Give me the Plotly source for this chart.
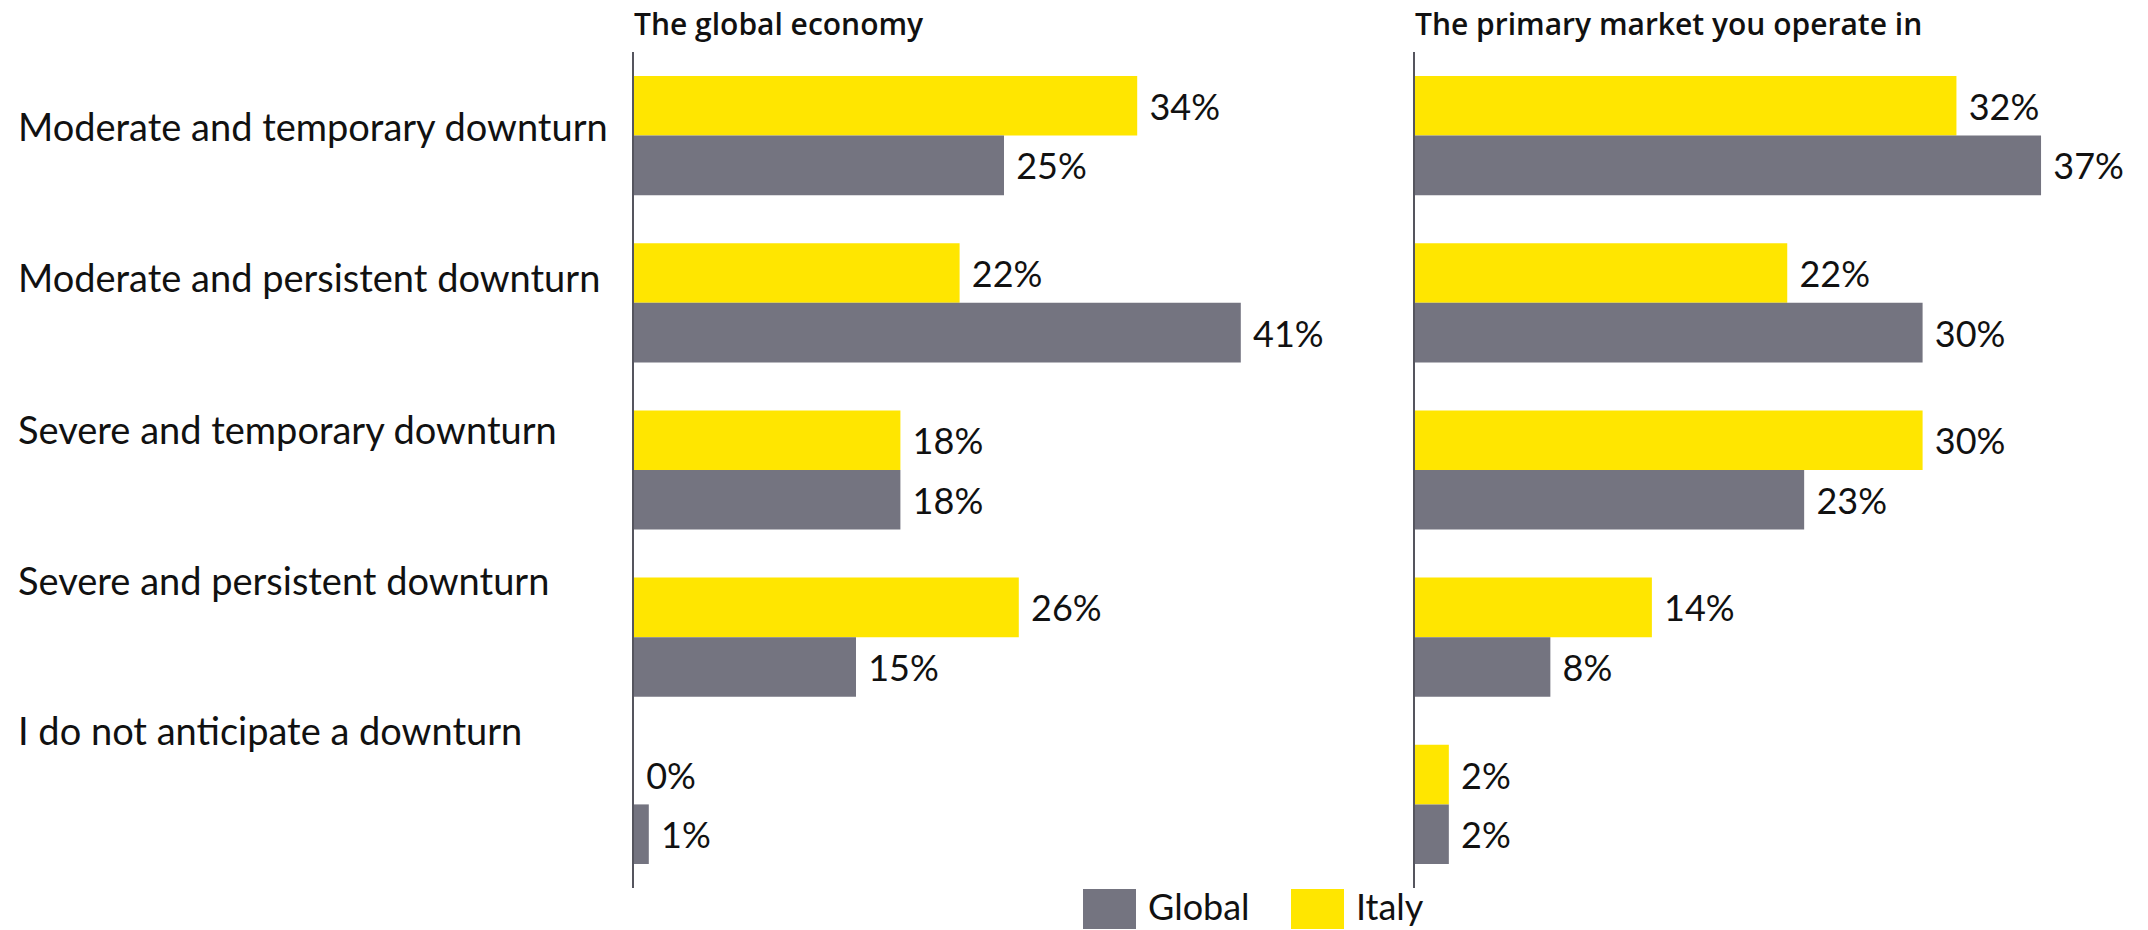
import plotly.graph_objects as go

# Survey answers, top to bottom
categories = [
    "Moderate and temporary downturn",
    "Moderate and persistent downturn",
    "Severe and temporary downturn",
    "Severe and persistent downturn",
    "I do not anticipate a downturn",
]

# Share of respondents (%) – outlook for the global economy
global_economy_italy = [34, 22, 18, 26, 0]
global_economy_global = [25, 41, 18, 15, 1]

# Share of respondents (%) – outlook for the primary market
primary_market_italy = [32, 22, 30, 14, 2]
primary_market_global = [37, 30, 23, 8, 2]

panel_titles = ["The global economy", "The primary market you operate in"]
series_names = ["Italy", "Global"]

YELLOW = "#FFE600"
GRAY = "#747480"
TEXT = "#111111"
AXIS = "#55555e"
FONT = "Lato"
TITLE_FONT = "Open Sans"

W, H = 2148, 930
px = lambda v: v / W
py = lambda v: 1 - v / H

fig = go.Figure()

panels = [
    (global_economy_italy, global_economy_global, "x", "y"),
    (primary_market_italy, primary_market_global, "x2", "y2"),
]
for italy, glob, xa, ya in panels:
    for name, vals, color in ((series_names[0], italy, YELLOW), (series_names[1], glob, GRAY)):
        fig.add_trace(go.Bar(
            name=name,
            y=categories,
            x=vals,
            orientation="h",
            marker=dict(color=color, line=dict(width=0)),
            text=[f" {v}%" for v in vals],
            textposition="outside",
            textfont=dict(family=FONT, size=36, color=TEXT),
            constraintext="none",
            cliponaxis=False,
            xaxis=xa,
            yaxis=ya,
            showlegend=False,
            hoverinfo="skip",
        ))

y_dom = [py(888), py(52)]
common_x = dict(showgrid=False, zeroline=False, showticklabels=False, showline=False, ticks="", fixedrange=True)
common_y = dict(type="category", categoryorder="array", categoryarray=categories,
                autorange="reversed", showgrid=False, zeroline=False, showticklabels=False,
                ticks="", showline=True, linecolor=AXIS, linewidth=2, domain=y_dom)

fig.update_layout(
    width=W, height=H,
    margin=dict(l=0, r=0, t=0, b=0),
    paper_bgcolor="white", plot_bgcolor="white",
    barmode="group", bargap=0.287, bargroupgap=0,
    showlegend=False,
    xaxis=dict(domain=[px(634), px(634 + 50 * 14.8)], range=[0, 50], **common_x),
    xaxis2=dict(domain=[px(1415), px(1415 + 40 * 16.92)], range=[0, 40], **common_x),
    yaxis=dict(anchor="x", **common_y),
    yaxis2=dict(anchor="x2", **common_y),
)

# Panel titles
for title, x0 in zip(panel_titles, (632, 1413)):
    fig.add_annotation(text=title, x=px(x0), y=py(24), xref="paper", yref="paper",
                       xanchor="left", yanchor="middle", showarrow=False,
                       font=dict(family=TITLE_FONT, size=30, color=TEXT, weight=600))

# Row labels on the left
label_y = [126, 277, 429, 580, 730]
for cat, yy in zip(categories, label_y):
    fig.add_annotation(text=cat, x=px(16), y=py(yy), xref="paper", yref="paper",
                       xanchor="left", yanchor="middle", showarrow=False,
                       font=dict(family=FONT, size=38, color=TEXT))

# Legend: Global then Italy
legend_items = [("Global", GRAY, 1083), ("Italy", YELLOW, 1291)]
for name, color, x0 in legend_items:
    fig.add_shape(type="rect", xref="paper", yref="paper",
                  x0=px(x0), x1=px(x0 + 53), y0=py(929), y1=py(889),
                  fillcolor=color, line=dict(width=0))
    fig.add_annotation(text=name, x=px(x0 + 63), y=py(906), xref="paper", yref="paper",
                       xanchor="left", yanchor="middle", showarrow=False,
                       font=dict(family=FONT, size=36, color=TEXT))

fig.write_html("out.html", config=dict(displayModeBar=False))
